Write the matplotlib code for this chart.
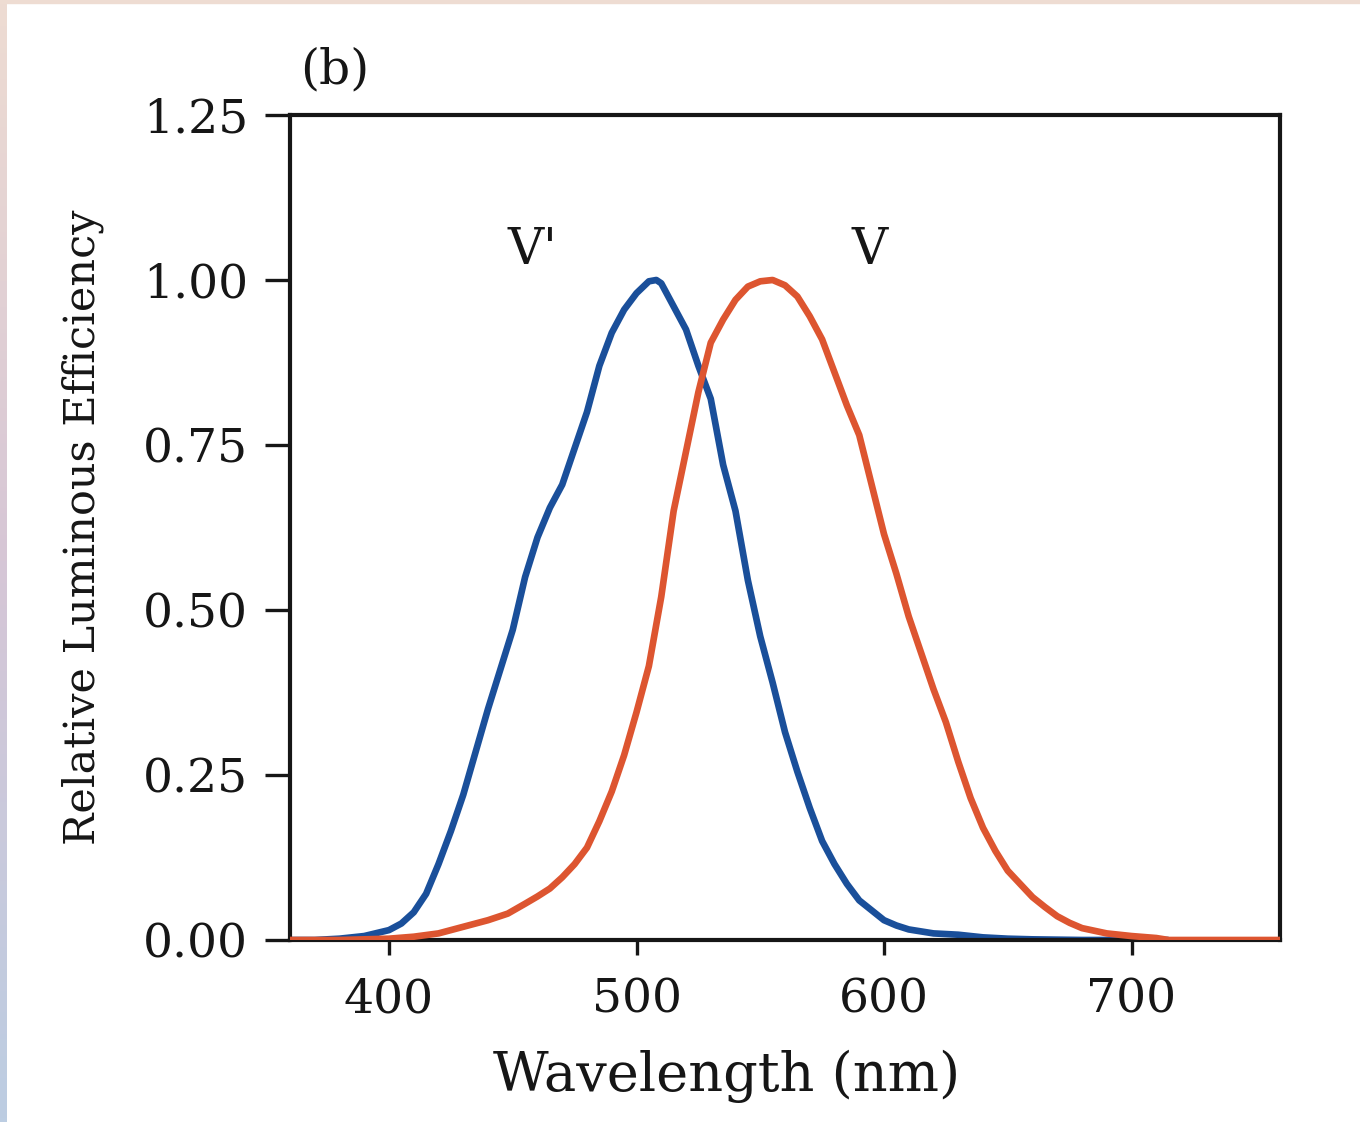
import numpy as np
import matplotlib
matplotlib.use("Agg")
import matplotlib.pyplot as plt
from matplotlib.patches import Rectangle
from matplotlib.colors import LinearSegmentedColormap

# Scotopic (V') curve
wl_scot = [360, 370, 380, 390, 400, 405, 410, 415, 420, 425, 430, 435, 440, 445,
           450, 455, 460, 465, 470, 475, 480, 485, 490, 495, 500, 505, 508, 510,
           515, 520, 525, 530, 535, 540, 545, 550, 555, 560, 565, 570, 575, 580,
           585, 590, 595, 600, 605, 610, 620, 630, 640, 650, 660, 680, 700, 715]
v_scot = [0.0, 0.0, 0.002, 0.006, 0.015, 0.025, 0.042, 0.07, 0.115, 0.165, 0.22,
          0.285, 0.35, 0.41, 0.47, 0.55, 0.61, 0.655, 0.69, 0.745, 0.80, 0.87,
          0.92, 0.955, 0.98, 0.998, 1.0, 0.995, 0.96, 0.925, 0.87, 0.82, 0.72,
          0.65, 0.545, 0.46, 0.39, 0.315, 0.255, 0.20, 0.15, 0.115, 0.085, 0.06,
          0.045, 0.03, 0.022, 0.016, 0.01, 0.008, 0.004, 0.002, 0.001, 0.0, 0.0, 0.0]

# Photopic (V) curve
wl_phot = [360, 380, 400, 410, 420, 430, 440, 448, 455, 460, 465, 470, 475, 480,
           485, 490, 495, 500, 505, 510, 515, 520, 525, 530, 535, 540, 545, 550,
           555, 560, 565, 570, 575, 580, 585, 590, 595, 600, 605, 610, 615, 620,
           625, 630, 635, 640, 645, 650, 655, 660, 665, 670, 675, 680, 685, 690,
           700, 710, 715, 760]
v_phot = [0.0, 0.0, 0.002, 0.005, 0.01, 0.02, 0.03, 0.04, 0.055, 0.066, 0.078,
          0.095, 0.115, 0.14, 0.18, 0.225, 0.28, 0.345, 0.415, 0.52, 0.65, 0.74,
          0.83, 0.905, 0.94, 0.97, 0.99, 0.998, 1.0, 0.992, 0.975, 0.945, 0.91,
          0.86, 0.81, 0.765, 0.69, 0.615, 0.555, 0.49, 0.435, 0.38, 0.33, 0.27,
          0.215, 0.17, 0.135, 0.105, 0.085, 0.065, 0.05, 0.036, 0.026, 0.018,
          0.014, 0.01, 0.006, 0.003, 0.0, 0.0]

x_ticks = [400, 500, 600, 700]
y_ticks = [0.00, 0.25, 0.50, 0.75, 1.00, 1.25]
y_tick_labels = ["0.00", "0.25", "0.50", "0.75", "1.00", "1.25"]

plt.rcParams['font.family'] = ['DejaVu Serif']
INK = "#161616"

W, H = 1360, 1122
fig = plt.figure(figsize=(W / 100, H / 100), dpi=100)
fig.patch.set_facecolor('white')

# decorative border (slide frame)
bax = fig.add_axes([0, 0, 7 / W, 1])
grad = np.linspace(0, 1, 256).reshape(-1, 1)
cm = LinearSegmentedColormap.from_list("b", ["#bccde2", "#d6c6d6", "#eedcd2"])
bax.imshow(grad, aspect='auto', cmap=cm, origin='lower')
bax.axis('off')
fig.patches.append(Rectangle((0, 1 - 3 / H), 1, 3 / H, transform=fig.transFigure,
                             color="#eedcd2", zorder=0))

ax = fig.add_axes([290 / W, 1 - 940 / H, (1280 - 290) / W, (940 - 115) / H])
ax.plot(wl_phot, v_phot, color="#dd5530", lw=4.8, solid_joinstyle='round',
        solid_capstyle='butt', zorder=3)
ax.plot(wl_scot, v_scot, color="#1a4f9a", lw=4.8, solid_joinstyle='round',
        solid_capstyle='butt', zorder=2)

ax.set_xlim(360, 760)
ax.set_ylim(0, 1.25)
ax.set_xticks(x_ticks)
ax.set_xticklabels([str(t) for t in x_ticks])
ax.set_yticks(y_ticks)
ax.set_yticklabels(y_tick_labels)

for s in ax.spines.values():
    s.set_linewidth(3.0)
    s.set_color(INK)

ax.tick_params(axis='y', direction='out', length=18, width=2.4, pad=12,
               labelsize=34, colors=INK)
ax.tick_params(axis='x', direction='out', length=11, width=2.4, pad=16,
               labelsize=34, colors=INK)

ax.set_xlabel("Wavelength (nm)", fontsize=39, color=INK)
ax.xaxis.set_label_coords(0.441, -0.133)
ax.set_ylabel("Relative Luminous Efficiency", fontsize=31, color=INK, labelpad=28)

ax.text(458, 1.045, "V'", fontsize=36, ha='center', va='center', color=INK)
ax.text(594, 1.045, "V", fontsize=36, ha='center', va='center', color=INK)
ax.text(364, 1.318, "(b)", fontsize=35, ha='left', va='center', color=INK,
        clip_on=False)

fig.savefig("out.png", dpi=100, facecolor='white')
